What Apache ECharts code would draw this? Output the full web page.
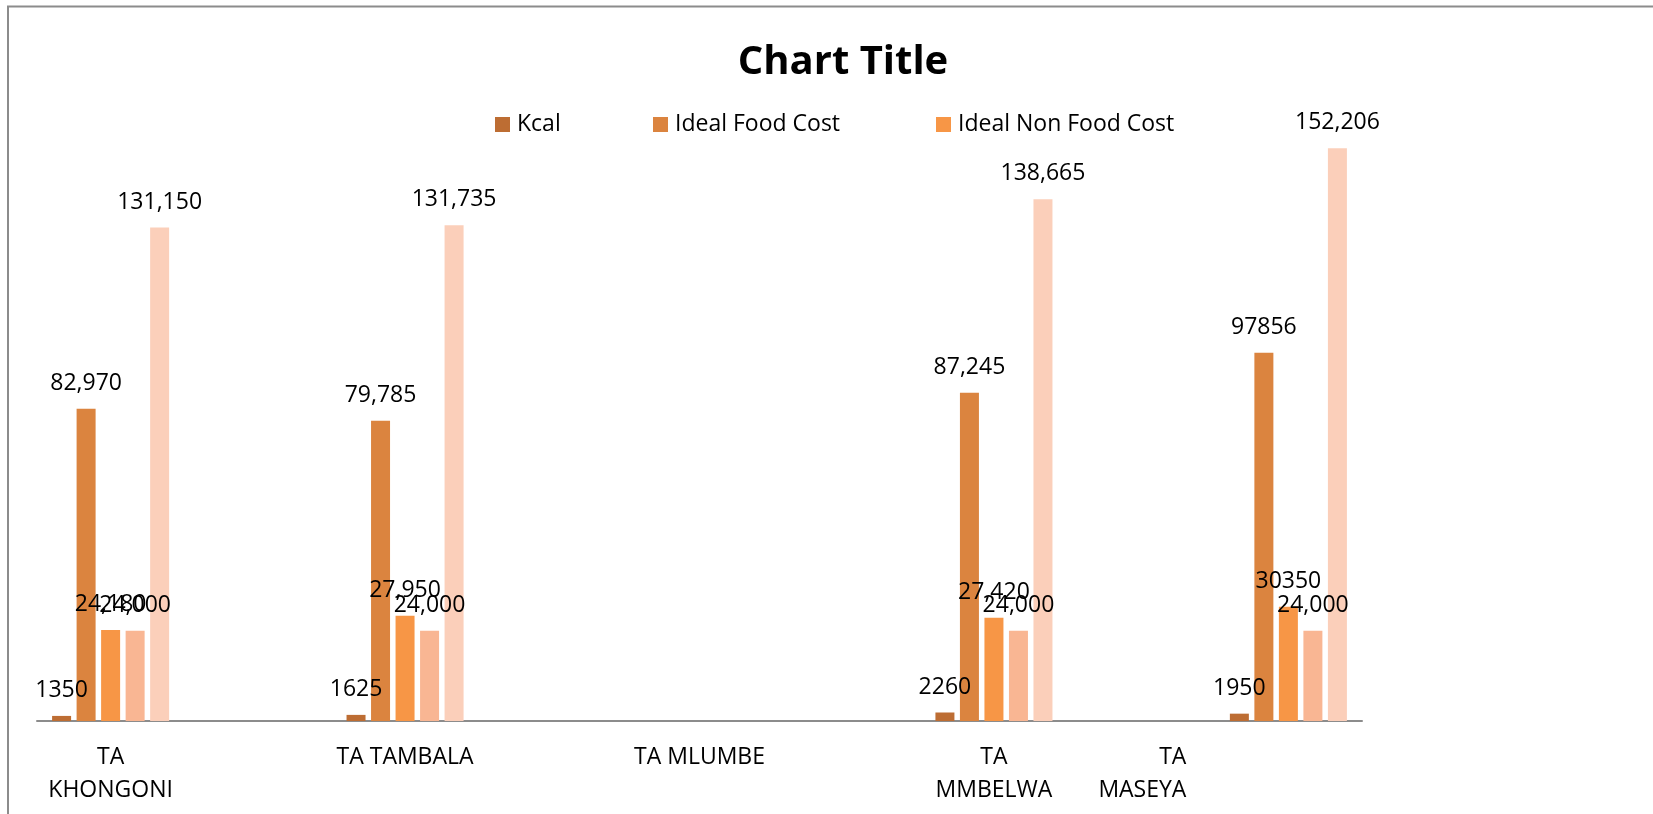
<!DOCTYPE html>
<html>
<head>
<meta charset="utf-8">
<script src="https://cdn.jsdelivr.net/npm/echarts@6/dist/echarts.min.js"></script>
<style>
html,body{margin:0;padding:0;background:#fff;}
#chart{width:1653px;height:814px;}
</style>
</head>
<body>
<div id="chart"></div>
<script>
// ---- data ----
const categories = ['TA KHONGONI', 'TA TAMBALA', 'TA MLUMBE', 'TA MMBELWA', 'TA MASEYA'];
const tickLabels = ['TA\nKHONGONI', 'TA TAMBALA', 'TA MLUMBE', 'TA\nMMBELWA', 'TA\nMASEYA'];
const seriesNames = ['Kcal', 'Ideal Food Cost', 'Ideal Non Food Cost', 'Other Cost', 'Total Cost'];
const kcal          = [1350, 1625, null, 2260, 1950];
const idealFood     = [82970, 79785, null, 87245, 97856];
const idealNonFood  = [24180, 27950, null, 27420, 30350];
const otherCost     = [24000, 24000, null, 24000, 24000];
const totalCost     = [131150, 131735, null, 138665, 152206];
// whether each data label is shown with a thousands separator (as in the source)
const kcalSep      = [false, false, false, false, false];
const idealFoodSep = [true, true, true, true, false];
const nonFoodSep   = [true, true, true, true, false];
const otherSep     = [true, true, true, true, true];
const totalSep     = [true, true, true, true, true];

const seriesValues = [kcal, idealFood, idealNonFood, otherCost, totalCost];
const seriesSep = [kcalSep, idealFoodSep, nonFoodSep, otherSep, totalSep];
const colors = ['#BD6D33', '#DB843F', '#F79646', '#F9B693', '#FBCFBA'];
const legendNames = ['Kcal', 'Ideal Food Cost', 'Ideal Non Food Cost'];
const legendLeft = [495, 653, 936];

const FONT = '"Open Sans", "Noto Sans", sans-serif';

function fmt(v, sep) {
  return sep ? v.toLocaleString('en-US') : String(v);
}

const chart = echarts.init(document.getElementById('chart'), null, {renderer: 'canvas'});

const series = seriesValues.map((vals, si) => ({
  name: seriesNames[si],
  type: 'bar',
  barWidth: 19,
  barGap: '29%',
  itemStyle: {color: colors[si]},
  data: vals.map((v, i) => [i, v == null ? '-' : v]),
  label: {
    show: true,
    position: 'top',
    distance: 14,
    fontFamily: FONT,
    fontSize: 23,
    lineHeight: 23,
    color: '#000',
    formatter: p => {
      const v = vals[p.dataIndex];
      return v == null ? '' : fmt(v, seriesSep[si][p.dataIndex]);
    }
  }
}));

const option = {
  backgroundColor: '#fff',
  animation: false,
  title: {
    text: 'Chart Title',
    left: 838,
    top: 34,
    textAlign: 'center',
    textStyle: {fontFamily: FONT, fontWeight: 'bold', fontSize: 40, lineHeight: 48, color: '#000'}
  },
  legend: legendNames.map((n, k) => ({
    data: [n],
    left: legendLeft[k],
    top: 113,
    padding: 0,
    icon: 'rect',
    itemWidth: 15,
    itemHeight: 15,
    itemGap: 0,
    textStyle: {fontFamily: FONT, fontSize: 23, lineHeight: 23, color: '#000', padding: [0, 0, 0, 2]}
  })),
  grid: {left: 37, right: 291, top: 119, bottom: 93, containLabel: false},
  xAxis: {
    type: 'value',
    min: -0.25,
    max: 4.25,
    splitLine: {show: false},
    axisTick: {show: false},
    axisLine: {show: true, onZero: false, lineStyle: {color: '#8c8c8c', width: 2}},
    axisLabel: {
      customValues: [0, 1, 2, 3, 4],
      margin: 20,
      fontFamily: FONT,
      fontSize: 23,
      lineHeight: 33,
      color: '#000',
      verticalAlign: 'top',
      formatter: (v) => {
        const idx = Math.round(v);
        const txt = tickLabels[idx];
        if (idx === categories.length - 1) {
          return txt.split('\n').map(s => '{r|' + s + '}').join('\n');
        }
        return txt;
      },
      rich: {
        r: {align: 'right', padding: [0, 292, 0, 0], fontFamily: FONT, fontSize: 23, lineHeight: 33, color: '#000'}
      }
    }
  },
  yAxis: {
    type: 'value',
    min: 0,
    max: 160000,
    interval: 20000,
    show: false,
    splitLine: {show: false}
  },
  graphic: [{
    type: 'rect',
    shape: {x: 8, y: 6.5, width: 3000, height: 3000},
    style: {fill: 'none', stroke: '#8c8c8c', lineWidth: 2},
    silent: true,
    z: 100
  }],
  series: series
};

chart.setOption(option);
</script>
</body>
</html>
